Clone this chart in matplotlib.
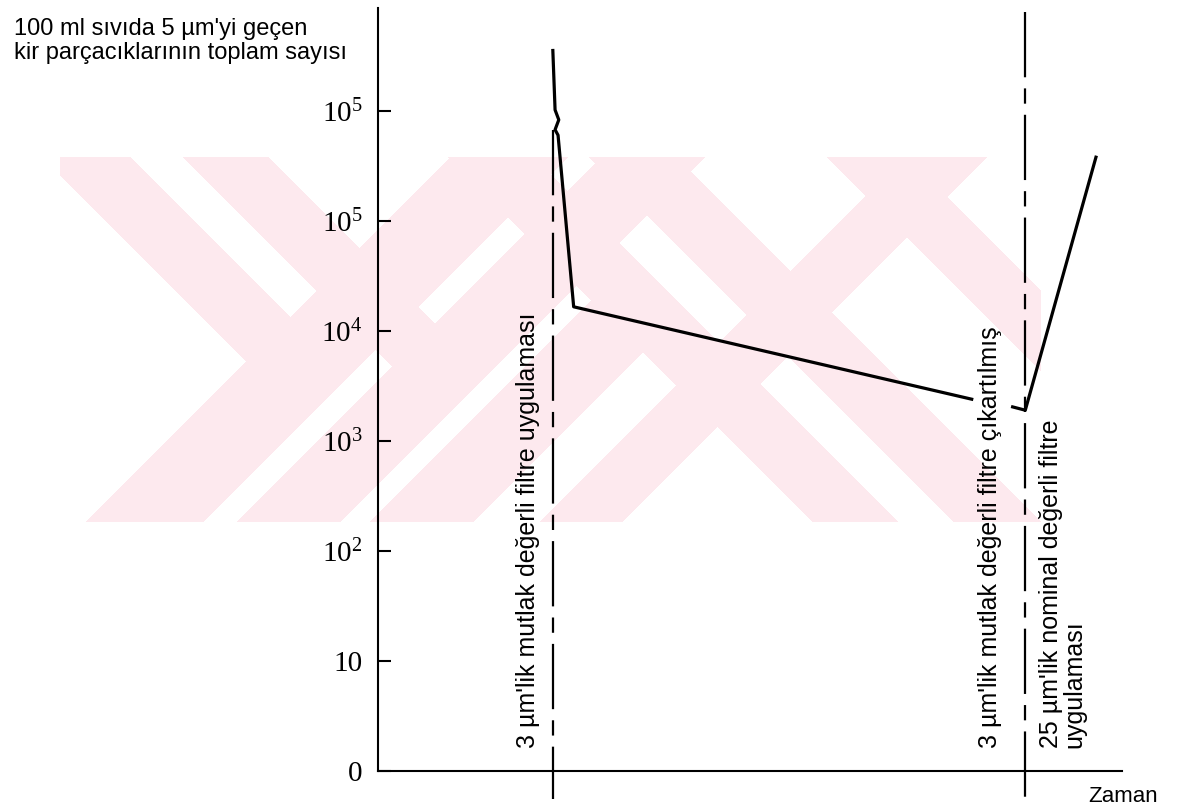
import numpy as np
import matplotlib
matplotlib.use("Agg")
import matplotlib.pyplot as plt

plt.rcParams['lines.scale_dashes'] = False

# zaman ekseni (keyfi birim) ve log10(parcacik sayisi)
zaman_1 = [23.5, 23.8, 24.3, 23.8, 24.2, 26.3, 79.8]
log_sayi_1 = [6.55, 6.01, 5.92, 5.83, 5.78, 4.22, 3.38]
zaman_2 = [85.3, 87.0, 96.5]
log_sayi_2 = [3.31, 3.28, 5.58]

olay_zaman = [23.5, 87.0]
olay_ust = [5.83, 6.9]

ytick_pos = [0, 1, 2, 3, 4, 5, 6]
ytick_lbl = ['0', '10', r'$\mathregular{10^2}$', r'$\mathregular{10^3}$',
             r'$\mathregular{10^4}$', r'$\mathregular{10^5}$', r'$\mathregular{10^5}$']

fig = plt.figure(figsize=(11.84, 8.08), dpi=100)

# soluk pembe filigran
H, W = 808, 1184
yy, xx = np.mgrid[0:H, 0:W]
u = xx + yy
v = xx - yy
m = (((v >= -115) & (v <= -27) & (u <= 724)) |
     ((u >= 607) & (u <= 724)) |
     ((v >= 26) & (v <= 111) & (u <= 861)) |
     ((u >= 758) & (u <= 861)) |
     ((u >= 891) & (u <= 994) & (v <= 376)) |
     ((v >= 291) & (v <= 376)) |
     ((u >= 1061) & (u <= 1143)) |
     ((v >= 432) & (v <= 519)) |
     ((v >= 670) & (v <= 750)))
m &= (xx >= 60) & (xx <= 1040) & (yy >= 157) & (yy <= 521)
img = np.ones((H, W, 4))
img[..., 3] = 0
img[m] = [253/255, 233/255, 238/255, 1]
bg = fig.add_axes([0, 0, 1, 1], zorder=0)
bg.imshow(img, extent=(0, W, H, 0), interpolation='nearest')
bg.set_xlim(0, W)
bg.set_ylim(H, 0)
bg.axis('off')

ax = fig.add_axes([378/1184, 37/808, 744/1184, 763/808], zorder=1)
ax.set_facecolor('none')
ax.set_xlim(0, 100)
ax.set_ylim(0, 763/110)

for s in ['top', 'right']:
    ax.spines[s].set_visible(False)
for s in ['left', 'bottom']:
    ax.spines[s].set_linewidth(1.5)

ax.set_xticks([])
ax.set_yticks(ytick_pos)
ax.set_yticklabels(ytick_lbl, fontfamily='Liberation Serif', fontsize=21)
ax.tick_params(axis='y', direction='in', length=9.5, width=1.5, pad=11)

ax.plot(zaman_1, log_sayi_1, color='black', lw=2.3)
ax.plot(zaman_2, log_sayi_2, color='black', lw=2.3)

for xe, ytop in zip(olay_zaman, olay_ust):
    ax.plot([xe, xe], [ytop, -0.25], color='black', lw=1.6,
            dashes=(47, 8, 11, 8), clip_on=False)

yb = 23/110
ax.text(20.2, yb, "3 µm'lik mutlak değerli filtre uygulaması", rotation=90,
        ha='center', va='bottom', fontsize=18, fontfamily='Liberation Sans')
ax.text(82.2, yb, "3 µm'lik mutlak değerli filtre çıkartılmış", rotation=90,
        ha='center', va='bottom', fontsize=18, fontfamily='Liberation Sans')
ax.text(88.8, yb, "25 µm'lik nominal değerli filtre\nuygulaması", rotation=90,
        ha='left', va='bottom', fontsize=18, fontfamily='Liberation Sans',
        linespacing=1.0)

fig.text(1088/1184, 1 - 797/808, 'Zaman', va='center', ha='left',
         fontsize=16, fontfamily='Liberation Sans')
fig.text(14/1184, 1 - 18/808, "100 ml sıvıda 5 µm'yi geçen\nkir parçacıklarının toplam sayısı",
         va='top', ha='left', fontsize=17, fontfamily='Liberation Sans', linespacing=1.1)

fig.savefig('out.png', dpi=100)
